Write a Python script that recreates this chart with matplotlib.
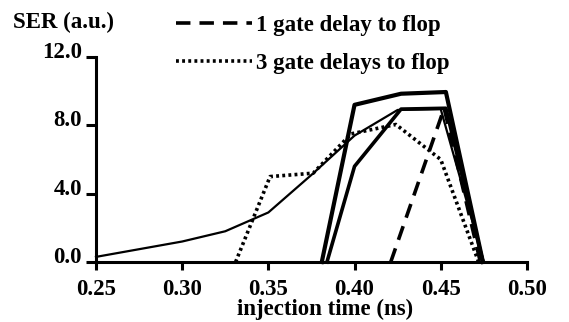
import matplotlib.pyplot as plt
from matplotlib.transforms import ScaledTranslation

plt.rcParams['font.family'] = ['Liberation Serif', 'DejaVu Serif']
plt.rcParams['font.weight'] = 'bold'

# thin solid curve
thin_x = [0.25, 0.30, 0.325, 0.35, 0.375, 0.40, 0.425, 0.45, 0.475]
thin_y = [0.3, 1.2, 1.8, 2.9, 5.1, 7.4, 8.9, 8.95, 0.0]

# thick solid, upper
upper_x = [0.381, 0.40, 0.427, 0.453, 0.4745]
upper_y = [0.0, 9.2, 9.85, 9.95, 0.0]

# thick solid, lower
lower_x = [0.384, 0.40, 0.427, 0.453, 0.4745]
lower_y = [0.0, 5.6, 8.95, 9.0, 0.0]

# 1 gate delay to flop
dash_x = [0.421, 0.452, 0.473]
dash_y = [0.0, 9.0, 0.0]

# 3 gate delays to flop
dot_x = [0.331, 0.351, 0.376, 0.398, 0.424, 0.45, 0.472]
dot_y = [0.0, 5.0, 5.2, 7.5, 8.05, 6.0, 0.0]

xticks = [0.25, 0.30, 0.35, 0.40, 0.45, 0.50]
yticks = [0.0, 4.0, 8.0, 12.0]

FS = 16.5

fig = plt.figure(figsize=(5.69, 3.22), dpi=100)
ax = fig.add_axes([0.1687, 0.1863, 0.926 - 0.1687, 0.823 - 0.1863])

ax.plot(thin_x, thin_y, color='black', lw=1.6, clip_on=False)
ax.plot(upper_x, upper_y, color='black', lw=3.0, clip_on=False)
ax.plot(lower_x, lower_y, color='black', lw=2.6, clip_on=False)
dash, = ax.plot(dash_x, dash_y, color='black', lw=2.6, dashes=(4, 2.5),
                clip_on=False)
dots, = ax.plot(dot_x, dot_y, color='black', lw=2.6, dashes=(0.8, 0.9),
                clip_on=False)

ax.set_xlim(0.25, 0.50)
ax.set_ylim(0, 12)
ax.set_xticks(xticks)
ax.set_xticklabels([f'{v:.2f}' for v in xticks])
ax.set_yticks(yticks)
ax.set_yticklabels([f'{v:.1f}' for v in yticks])

for side in ['top', 'right']:
    ax.spines[side].set_visible(False)
for side in ['left', 'bottom']:
    ax.spines[side].set_linewidth(2.2)
ax.tick_params(direction='out', width=2.2, labelsize=FS)
ax.tick_params(axis='x', length=6, pad=6)
ax.tick_params(axis='y', length=7, pad=3)

# y labels sit a little above their ticks
shift = ScaledTranslation(0, 5 / 72, fig.dpi_scale_trans)
for lab in ax.get_yticklabels():
    lab.set_transform(lab.get_transform() + shift)

fig.text(325 / 569, 1 - 309 / 322, 'injection time (ns)', fontsize=FS,
         fontweight='bold', ha='center', va='center')

fig.text(13 / 569, 1 - 22 / 322, 'SER (a.u.)', fontsize=FS, fontweight='bold',
         ha='left', va='center')

ax.legend([dash, dots], ['1 gate delay to flop', '3 gate delays to flop'],
          loc='upper left', bbox_to_anchor=(176 / 569, 1 - 15 / 322),
          bbox_transform=fig.transFigure, frameon=False, borderpad=0,
          fontsize=FS, handlelength=3.3, handletextpad=0.2,
          labelspacing=0.75, borderaxespad=0)

fig.savefig('out.png', dpi=100)
